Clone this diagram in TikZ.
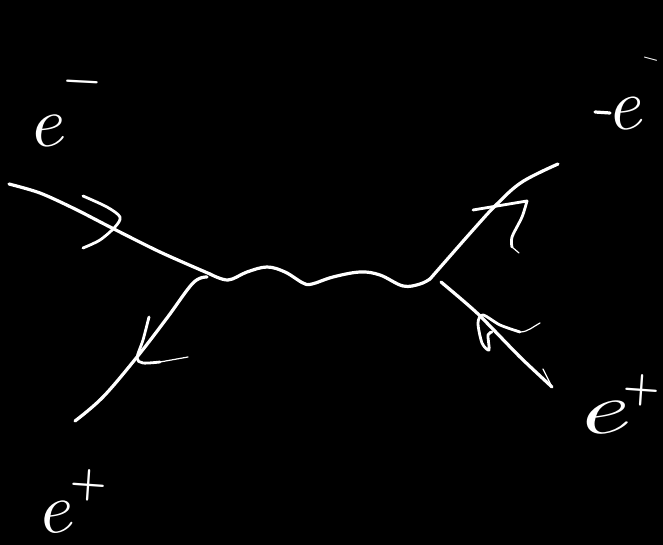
\documentclass[tikz,border=0pt]{standalone}
\begin{document}
\begin{tikzpicture}[x=1pt,y=-1pt,
  stroke/.style={draw=white,line width=3.2pt,line cap=round,line join=round},
  headstroke/.style={draw=white,line width=2.8pt,line cap=round,line join=round},
  taper/.style={draw=white,line width=1.2pt,line cap=round,line join=round},
  letter/.style={text=white,inner sep=0pt,font=\fontsize{#1}{#1}\selectfont\itshape},
  sign/.style={text=white,inner sep=0pt,font=\fontsize{#1}{#1}\selectfont\bfseries}]
\fill[black] (0,0) rectangle (663,545);
\useasboundingbox (0,0) rectangle (663,545);
\clip (0,0) rectangle (663,545);
\coordinate (inL) at (9,184);
\coordinate (v1) at (210,274);
\coordinate (outL) at (75,421);
\coordinate (v2) at (430,279);
\coordinate (outR) at (558,164);
\coordinate (inR) at (441,282);
\coordinate (endR) at (552,387);
% fermion lines
\draw[stroke] plot[smooth,tension=0.5] coordinates {(inL) (40,193) (75,209) (110,227) (160,252) (v1)};
\draw[stroke] plot[smooth,tension=0.6] coordinates {(207,277) (193,283) (167,318) (137,357) (103,397) (outL)};
\draw[stroke] plot[smooth,tension=0.6] coordinates {(v2) (473,230) (497,204) (522,182) (outR)};
\draw[stroke] plot[smooth,tension=0.4] coordinates {(inR) (477,313) (520,357) (endR)};
% wavy propagator
\draw[stroke] plot[smooth,tension=0.6] coordinates {(v1) (228,280) (247,272) (267,267) (285,272) (303,283) (312,284) (333,277) (360,272) (380,275) (403,286) (420,284) (v2)};
% arrowheads
\draw[headstroke] plot[smooth,tension=0.5] coordinates {(83,196) (107,207) (120,217) (115,227) (100,240) (83,248)};
\draw[headstroke] plot[smooth,tension=0.5] coordinates {(149,317) (143,340) (137,358) (143,363) (160,362)};
\draw[taper] (160,362) -- (188,357);
\draw[headstroke] (473,210) -- (497,206) -- (527,201);
\draw[headstroke] plot[smooth,tension=0.5] coordinates {(527,201) (522,217) (512,237) (512,247)};
\draw[taper] (512,247) -- (519,253);
\draw[headstroke] plot[smooth,tension=0.5] coordinates {(520,332) (500,325) (483,315) (478,323) (482,343) (489,350) (488,335) (492,332)};
\draw[taper] (520,332) .. controls (528,332) and (534,326) .. (540,323);
\draw[taper] (543,369) -- (552,387);
% labels
\node[letter=70,rotate=6,xscale=1.15] (eL) at (45,132) {e};
\node[sign=42,rotate=-3] (mL) at (82,87) {−};
\node[letter=72,rotate=6,xscale=1.1] (eR) at (624,114) {e};
\draw[stroke] (595,112) -- (610,113);
\node[sign=18,rotate=-15] (mR) at (650,61) {−};
\node[letter=70,rotate=8,xscale=1.7] (eP) at (600,419) {e};
\node[sign=42,rotate=-4] (pR) at (642,390) {+};
\node[letter=70,rotate=8,xscale=1.15] (eQ) at (53,518) {e};
\node[sign=42,rotate=-4] (pQ) at (89,485) {+};
\end{tikzpicture}
\end{document}
